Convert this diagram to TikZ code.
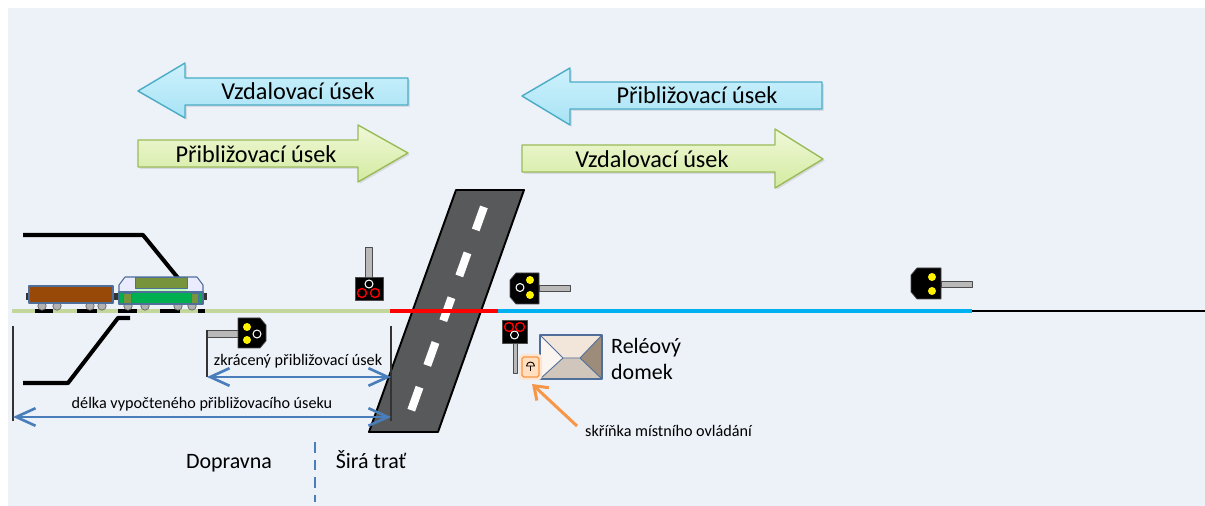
\documentclass[tikz,border=0pt]{standalone}
\usepackage{fontspec}
\setmainfont{Carlito}
\usetikzlibrary{arrows.meta, positioning, shadows, calc}

\definecolor{pozadi}{HTML}{EDF1F8}
\definecolor{modraOkraj}{HTML}{4BACC6}
\definecolor{modraHore}{HTML}{CDF1FC}
\definecolor{modraDole}{HTML}{A8E3F5}
\definecolor{zelenaOkraj}{HTML}{9BBB59}
\definecolor{zelenaHore}{HTML}{F0F8D8}
\definecolor{zelenaDole}{HTML}{D3EBA0}
\definecolor{silnice}{HTML}{58595B}
\definecolor{kolejZelena}{HTML}{C3D69B}
\definecolor{kolejModra}{HTML}{00B0F0}
\definecolor{kotaModra}{HTML}{4A7EBB}
\definecolor{oranzova}{HTML}{F79646}
\definecolor{vagon}{HTML}{984807}
\definecolor{lokoOkraj}{HTML}{4F6F9A}
\definecolor{olivova}{HTML}{77933C}
\definecolor{lokoZelena}{HTML}{00B050}

\begin{document}
\begin{tikzpicture}[x=0.02cm, y=-0.02cm, line join=round,
    sipkaText/.style={font=\fontsize{13.8}{16}\selectfont},
    velky/.style={font=\fontsize{12.5}{15}\selectfont},
    maly/.style={font=\fontsize{9.2}{11}\selectfont},
    modraSipka/.style={draw=modraOkraj, line width=0.8pt, top color=modraHore, bottom color=modraDole,
        drop shadow={opacity=0.2, shadow xshift=1pt, shadow yshift=-1pt}},
    zelenaSipka/.style={draw=zelenaOkraj, line width=0.8pt, top color=zelenaHore, bottom color=zelenaDole,
        drop shadow={opacity=0.2, shadow xshift=1pt, shadow yshift=-1pt}},
    kolej/.style={line width=2.8pt},
    kota/.style={draw=kotaModra, line width=1.5pt,
        arrows={Straight Barb[length=11pt,width=10pt]-Straight Barb[length=11pt,width=10pt]}},
    hranice/.style={draw=black!80, line width=0.6pt},
    hlava/.style={fill=black, draw=black!70, line width=0.4pt},
    rameno/.style={fill=gray!55, draw=black!70, line width=0.5pt},
    zluta/.style={fill=yellow},
    bila/.style={draw=white, line width=0.6pt},
    cervena/.style={draw=red, line width=0.8pt},
    kolo/.style={fill=gray!60, draw=black!60, line width=0.4pt},
    nakolejnik/.style={black, line width=2.3pt}]

    \useasboundingbox (0,0) rectangle (1205,506);
    \fill[pozadi] (8,8) rectangle (1205,506);

    % smery useku
    \path[modraSipka] (138,91) -- (185,63) -- (185,78) -- (408,78) -- (408,105) -- (185,105) -- (185,118) -- cycle;
    \path[zelenaSipka] (138,140) -- (358,140) -- (358,125) -- (408,153) -- (358,182) -- (358,167) -- (138,167) -- cycle;
    \path[modraSipka] (522,96) -- (570,68) -- (570,82) -- (822,82) -- (822,109) -- (570,109) -- (570,125) -- cycle;
    \path[zelenaSipka] (522,145) -- (775,145) -- (775,129) -- (823,159) -- (775,188) -- (775,172) -- (522,172) -- cycle;
    \node[sipkaText] (vzdLevy) at (298,91) {Vzdalovací úsek};
    \node[sipkaText] (pribLevy) at (256,154) {Přibližovací úsek};
    \node[sipkaText] (pribPravy) at (697,95) {Přibližovací úsek};
    \node[sipkaText] (vzdPravy) at (652,159) {Vzdalovací úsek};

    % silnice pres prejezd
    \fill[silnice] (456,190) -- (524,190) -- (438,432) -- (369,432) -- cycle;
    \draw[black, line width=1.1pt] (456,190) -- (524,190) -- (438,432) -- (369,432) -- cycle;
    \foreach \t in {0.07,0.26,0.445,0.63,0.815}
        \draw[white, line width=4.6pt] ($(490,190)!\t!(403.5,432)$) -- ($(490,190)!\t+0.095!(403.5,432)$);

    % koleje
    \draw[nakolejnik] (23,235) -- (143,235) -- (178,278);
    \draw[nakolejnik] (23,383) -- (68,383) -- (118,318) -- (130,318);
    \draw[kolej, kolejZelena] (12,311) -- (390,311);
    \foreach \a/\b in {35/53, 77/97, 118/137, 160/180, 198/205}
        \draw[kolej, black] (\a,311) -- (\b,311);
    \draw[kolej, red] (390,311) -- (498,311);
    \draw[kolej, kolejModra] (498,311) -- (972,311);
    \draw[black, line width=1.6pt] (972,311) -- (1205,311);

    % vlak
    \foreach \x in {42,57,90,102,128,145,178,192}
        \draw[kolo] (\x,306) circle (4.2);
    \fill[black!80] (26,293) rectangle (30,300);
    \fill[black!80] (112,293) rectangle (120,300);
    \fill[black!80] (203,293) rectangle (207,300);
    \draw[vagon, fill=vagon, draw=lokoOkraj, line width=0.6pt] (29,286) rectangle (113,303);
    \draw[fill=blue!8!white, draw=lokoOkraj, line width=0.6pt] (119,304) -- (119,285) -- (125,277) -- (197,277) -- (203,285) -- (203,304) -- cycle;
    \fill[green!25!white] (135,288) rectangle (187,292);
    \draw[fill=olivova, draw=lokoOkraj, line width=0.4pt] (135,277) rectangle (187,288);
    \draw[fill=lokoZelena, draw=lokoOkraj, line width=0.6pt] (119,292) rectangle (203,304);
    \draw[fill=olivova, draw=lokoOkraj, line width=0.4pt] (123,293) rectangle (131,303);
    \draw[fill=olivova, draw=lokoOkraj, line width=0.4pt] (191,293) rectangle (198,303);

    % navestidla
    \draw[rameno] (365,247) rectangle (372,277);
    \draw[hlava] (355,277) rectangle (383,300);
    \draw[bila] (369,284) circle (4);
    \draw[cervena] (362,293) circle (4.5);
    \draw[cervena] (375,293) circle (4.5);

    \draw[rameno] (207,330) rectangle (238,337);
    \draw[hlava] (238,318) -- (260,318) -- (266,325) -- (266,341) -- (260,348) -- (238,348) -- cycle;
    \fill[zluta] (247,327) circle (4);
    \fill[zluta] (247,340) circle (4);
    \draw[bila] (257,334) circle (4);

    \draw[rameno] (539,285) rectangle (570,291);
    \draw[hlava] (539,273) -- (516,273) -- (510,280) -- (510,297) -- (516,304) -- (539,304) -- cycle;
    \fill[zluta] (530,280) circle (4);
    \fill[zluta] (530,295) circle (4);
    \draw[bila] (520,287.5) circle (4);

    \draw[rameno] (513,343) rectangle (517,373);
    \draw[hlava] (502,320) rectangle (527,343);
    \draw[cervena] (509,327) circle (4.5);
    \draw[cervena] (520,327) circle (4.5);
    \draw[bila] (514.5,335) circle (4);

    \draw[rameno] (941,281) rectangle (972,287);
    \draw[hlava] (941,268) -- (917,268) -- (911,275) -- (911,292) -- (917,299) -- (941,299) -- cycle;
    \fill[zluta] (932,277) circle (4);
    \fill[zluta] (932,291) circle (4);

    % releovy domek
    \fill[brown!8!white] (540,335) -- (563,358) -- (540,379) -- cycle;
    \fill[brown!20!white] (540,335) -- (602,335) -- (580,358) -- (563,358) -- cycle;
    \fill[brown!35!gray!45!white] (540,379) -- (563,358) -- (580,358) -- (602,379) -- cycle;
    \fill[brown!30!gray!90!white] (602,335) -- (580,358) -- (602,379) -- cycle;
    \draw[lokoOkraj, line width=0.5pt] (540,335) -- (563,358) -- (540,379) (563,358) -- (580,358)
        (602,335) -- (580,358) -- (602,379);
    \draw[lokoOkraj, line width=0.7pt] (540,335) rectangle (602,379);
    \node[velky, anchor=west, align=left] (domek) at (605,359) {Reléový\\domek};

    % skrinka mistniho ovladani
    \fill[oranzova!25, rounded corners=2pt] (519,354) rectangle (542,380);
    \node[draw=oranzova, fill=orange!25!white, line width=0.7pt, rounded corners=1pt,
        minimum width=17*0.02cm, minimum height=20*0.02cm, inner sep=0pt] (skrinka) at (530.5,367) {};
    \draw[black, line width=0.5pt] (526.5,366) arc[start angle=180, end angle=360, radius=4] -- cycle;
    \draw[black, line width=0.5pt] (530.5,366) -- (530.5,371.5);
    \node[maly, anchor=west] (skrinkaPopis) at (579,431) {skříňka místního ovládání};
    \coordinate (sipkaKonec) at (577,426);
    \coordinate (sipkaHrot) at (532,384);
    \draw[oranzova, line width=1.7pt, -{Straight Barb[length=7pt,width=10pt]}] (sipkaKonec) -- (sipkaHrot);

    % koty priblizovaciho useku
    \draw[hranice] (13,326) -- (13,421);
    \draw[hranice] (207,330) -- (207,377);
    \draw[hranice] (391,326) -- (391,421);
    \coordinate (levyOkraj) at (13,417);
    \coordinate (prejezdDole) at (391,417);
    \coordinate (navestidloZ) at (207,377);
    \coordinate (prejezdZ) at (391,377);
    \draw[kota] (navestidloZ) -- (prejezdZ);
    \draw[kota] (levyOkraj) -- (prejezdDole);
    \node[maly] (zkraceny) at (298,361) {zkrácený přibližovací úsek};
    \node[maly] (delka) at (202,404) {délka vypočteného přibližovacího úseku};

    % rozhrani dopravna / sira trat
    \draw[kotaModra, line width=1pt, dash pattern=on 6pt off 4pt] (315,442) -- (315,502);
    \node[velky, anchor=base] (dopravna) at (229,469) {Dopravna};
    \node[velky, anchor=base] (siraTrat) at (371,469) {Širá trať};
\end{tikzpicture}
\end{document}
